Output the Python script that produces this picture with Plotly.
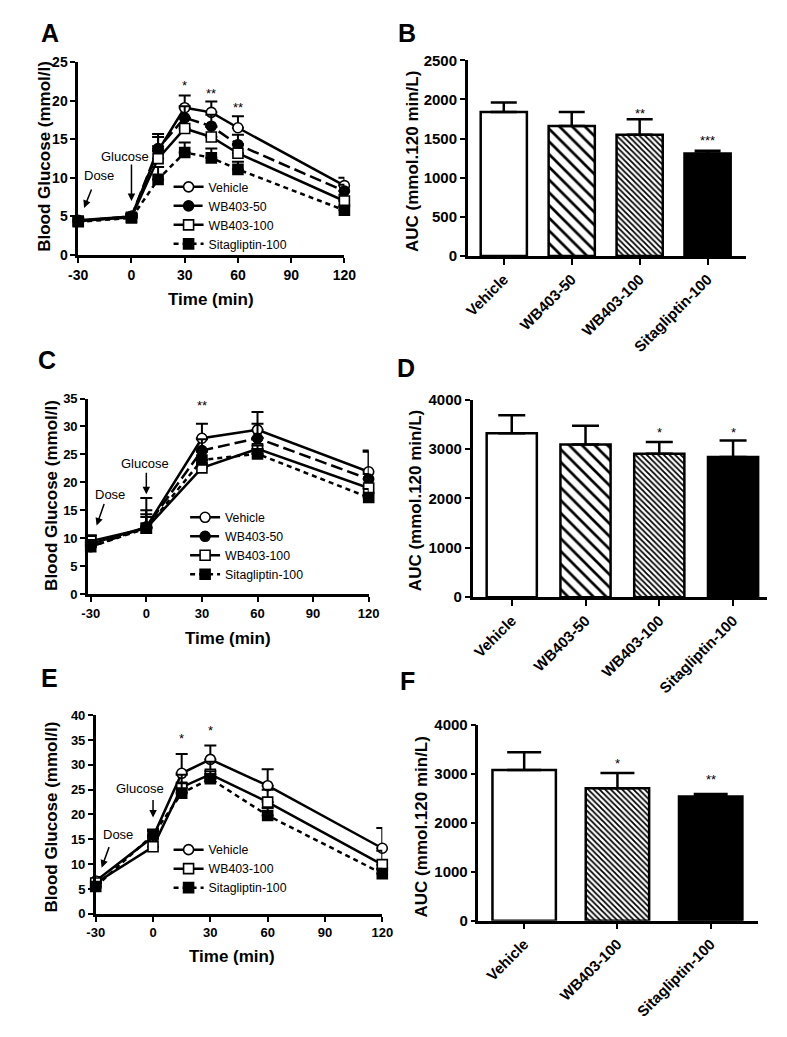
import plotly.graph_objects as go

# target picture size and the default 8px page margin of the browser
W, H = 787, 1037
OFF = 8
FW, FH = W - 2 * OFF, H - 2 * OFF
FONT = "Liberation Sans, Arial, Helvetica, sans-serif"

# ---------------- data ----------------
series_names = ["Vehicle", "WB403-50", "WB403-100", "Sitagliptin-100"]

# Panel A
time_A = [-30, 0, 15, 30, 45, 60, 120]
vehicle_A = [4.5, 5.0, 13.5, 19.1, 18.5, 16.5, 9.0]
vehicle_A_err = [0.3, 0.3, 2.2, 1.6, 1.4, 1.5, 1.0]
wb50_A = [4.4, 5.0, 13.8, 17.8, 16.7, 14.3, 8.3]
wb50_A_err = [0.2, 0.3, 1.5, 1.5, 1.5, 1.3, 0.8]
wb100_A = [4.4, 4.9, 12.5, 16.4, 15.3, 13.2, 7.0]
wb100_A_err = [0.2, 0.3, 1.6, 1.3, 1.3, 1.2, 0.8]
sita_A = [4.3, 4.8, 9.8, 13.3, 12.6, 11.1, 5.8]
sita_A_err = [0.2, 0.3, 1.6, 1.3, 1.2, 1.0, 0.5]
stars_A_x = [30, 45, 60]
stars_A_y = [22.4, 21.3, 19.5]
stars_A_txt = ["*", "**", "**"]

# Panel B
cats_B = ["Vehicle", "WB403-50", "WB403-100", "Sitagliptin-100"]
auc_B = [1840, 1660, 1550, 1310]
auc_B_err = [120, 180, 195, 35]
stars_B_y = [None, None, 1859, 1510]
stars_B_txt = ["", "", "**", "***"]

# Panel C
time_C = [-30, 0, 30, 60, 120]
vehicle_C = [9.0, 12.0, 27.9, 29.4, 21.9]
vehicle_C_err = [1.5, 3.0, 2.6, 3.2, 3.8]
wb50_C = [8.5, 12.0, 25.7, 27.9, 20.6]
wb50_C_err = [1.5, 5.2, 2.0, 2.6, 4.9]
wb100_C = [9.5, 11.8, 22.6, 26.0, 19.0]
wb100_C_err = [1.0, 2.5, 1.5, 2.0, 2.5]
sita_C = [8.5, 11.8, 24.0, 25.1, 17.3]
sita_C_err = [1.2, 2.0, 1.5, 1.5, 1.5]
stars_C_x = [30]
stars_C_y = [34.3]
stars_C_txt = ["**"]

# Panel D
cats_D = ["Vehicle", "WB403-50", "WB403-100", "Sitagliptin-100"]
auc_D = [3317, 3091, 2905, 2839]
auc_D_err = [365, 378, 233, 332]
stars_D_y = [None, None, 3403, 3403]
stars_D_txt = ["", "", "*", "*"]

# Panel E
series_names_E = ["Vehicle", "WB403-100", "Sitagliptin-100"]
time_E = [-30, 0, 15, 30, 60, 120]
vehicle_E = [6.6, 15.5, 28.3, 31.1, 25.8, 13.2]
vehicle_E_err = [0.8, 1.5, 3.9, 2.8, 3.3, 4.1]
wb100_E = [6.2, 13.5, 25.5, 28.1, 22.5, 9.9]
wb100_E_err = [0.6, 3.2, 2.5, 2.5, 2.5, 2.8]
sita_E = [5.5, 15.9, 24.3, 27.2, 19.8, 8.1]
sita_E_err = [0.6, 1.0, 2.0, 1.5, 1.5, 1.0]
stars_E_x = [15, 30]
stars_E_y = [36.0, 37.6]
stars_E_txt = ["*", "*"]

# Panel F
cats_F = ["Vehicle", "WB403-100", "Sitagliptin-100"]
auc_F = [3079, 2709, 2541]
auc_F_err = [363, 309, 47]
stars_F_y = [None, 3276, 2955]
stars_F_txt = ["", "*", "**"]

time_ticks = [-30, 0, 30, 60, 90, 120]
time_tick_labels = ["-30", "0", "30", "60", "90", "120"]

# ---------------- helpers ----------------
def px(x):
    return (x - OFF) / FW

def py(y):
    return 1 - (y - OFF) / FH

STYLE = {
    "Vehicle": dict(symbol="circle", fill="white", dash="solid"),
    "WB403-50": dict(symbol="circle", fill="black", dash="12px,5px"),
    "WB403-100": dict(symbol="square", fill="white", dash="solid"),
    "Sitagliptin-100": dict(symbol="square", fill="black", dash="5px,4px"),
}

BAR_STYLE = {
    "Vehicle": dict(color="white", pattern=None),
    "WB403-50": dict(color="white", pattern=dict(shape="\\", size=9, solidity=0.3)),
    "WB403-100": dict(color="white", pattern=dict(shape="\\", size=4, solidity=0.45)),
    "Sitagliptin-100": dict(color="black", pattern=None),
}

fig = go.Figure()


def add_lines(names, xs, ys_list, errs_list, ax, legend):
    xa = "x" if ax == 1 else f"x{ax}"
    ya = "y" if ax == 1 else f"y{ax}"
    for name, ys, errs in zip(names, ys_list, errs_list):
        st = STYLE[name]
        fig.add_trace(go.Scatter(
            x=xs, y=ys, name=name, mode="lines+markers",
            xaxis=xa, yaxis=ya, legend=legend, cliponaxis=False,
            line=dict(color="black", width=2.5, dash=st["dash"]),
            marker=dict(symbol=st["symbol"], size=10, color=st["fill"],
                        line=dict(color="black", width=1.6)),
            error_y=dict(type="data", symmetric=False, array=errs,
                         arrayminus=[0] * len(errs), color="black",
                         thickness=2, width=6),
        ))


def add_bars(cats, vals, errs, ax, cap):
    xa = f"x{ax}"
    ya = f"y{ax}"
    for c, v, e in zip(cats, vals, errs):
        bs = BAR_STYLE[c]
        marker = dict(color=bs["color"], line=dict(color="black", width=2.5))
        if bs["pattern"]:
            marker["pattern"] = dict(shape=bs["pattern"]["shape"], size=bs["pattern"]["size"],
                                     solidity=bs["pattern"]["solidity"],
                                     fgcolor="black", bgcolor="white", fillmode="replace")
        fig.add_trace(go.Bar(
            x=[c], y=[v], xaxis=xa, yaxis=ya, width=0.68, showlegend=False,
            marker=marker, name=c,
            error_y=dict(type="data", symmetric=False, array=[e],
                         arrayminus=[0], color="black", thickness=2.5, width=cap),
        ))


add_lines(series_names, time_A, [vehicle_A, wb50_A, wb100_A, sita_A],
          [vehicle_A_err, wb50_A_err, wb100_A_err, sita_A_err], 1, "legend")
add_bars(cats_B, auc_B, auc_B_err, 2, 13)
add_lines(series_names, time_C, [vehicle_C, wb50_C, wb100_C, sita_C],
          [vehicle_C_err, wb50_C_err, wb100_C_err, sita_C_err], 3, "legend2")
add_bars(cats_D, auc_D, auc_D_err, 4, 13.5)
add_lines(series_names_E, time_E, [vehicle_E, wb100_E, sita_E],
          [vehicle_E_err, wb100_E_err, sita_E_err], 5, "legend3")
add_bars(cats_F, auc_F, auc_F_err, 6, 17)

# ---------------- axes ----------------
def axis(tsize, **kw):
    d = dict(showline=True, linecolor="black", linewidth=2.5, ticks="outside",
             ticklen=5, tickwidth=2, tickcolor="black", showgrid=False,
             zeroline=False, fixedrange=True,
             tickfont=dict(family=FONT, size=tsize, color="black", weight="bold"))
    d.update(kw)
    return d

# pixel boxes in the picture: (left, right, top, bottom)
boxes = {
    1: (70, 344, 54, 250),
    2: (471, 757, 52, 251),
    3: (80, 369, 396, 595),
    4: (476, 779, 397, 598),
    5: (88, 383, 718, 920),
    6: (482, 770, 728, 927),
}

tx = dict(tickvals=time_ticks, ticktext=time_tick_labels)
layout_axes = {}
specs = {
    1: dict(x=dict(range=[-30, 120], **tx), y=dict(range=[0, 25], dtick=5), ts=14),
    2: dict(x=dict(range=[-0.53, 3.56], type="category", categoryarray=cats_B, categoryorder="array",
                   tickangle=-45, ticklen=6), y=dict(range=[0, 2500], dtick=500), ts=15),
    3: dict(x=dict(range=[-31.5, 120], **tx), y=dict(range=[0, 35], dtick=5), ts=13),
    4: dict(x=dict(range=[-0.53, 3.46], type="category", categoryarray=cats_D, categoryorder="array",
                   tickangle=-45, ticklen=6), y=dict(range=[0, 4000], dtick=1000), ts=15),
    5: dict(x=dict(range=[-30, 120], **tx), y=dict(range=[0, 40], dtick=5), ts=13),
    6: dict(x=dict(range=[-0.49, 2.51], type="category", categoryarray=cats_F, categoryorder="array",
                   tickangle=-45, ticklen=6), y=dict(range=[0, 4000], dtick=1000), ts=15),
}
for i, (l, r, t, b) in boxes.items():
    s = specs[i]
    xk = "xaxis" if i == 1 else f"xaxis{i}"
    yk = "yaxis" if i == 1 else f"yaxis{i}"
    xa = "x" if i == 1 else f"x{i}"
    ya = "y" if i == 1 else f"y{i}"
    layout_axes[xk] = axis(s["ts"], domain=[px(l), px(r)], anchor=ya, **s["x"])
    layout_axes[yk] = axis(s["ts"], domain=[py(b), py(t)], anchor=xa, **s["y"])

# ---------------- annotations ----------------
ann = []

def txt(x, y, text, size=17, bold=True, angle=0, **kw):
    d = dict(x=px(x), y=py(y), xref="paper", yref="paper", text=text, showarrow=False,
             textangle=angle, xanchor="center", yanchor="middle",
             font=dict(family=FONT, size=size, color="black", weight="bold" if bold else "normal"))
    d.update(kw)
    ann.append(d)

# panel letters
for letter, (x, y) in {"A": (41, 24), "B": (408, 24), "C": (38, 357), "D": (407, 365),
                        "E": (40, 680), "F": (409, 683)}.items():
    txt(x, y, letter, size=25)

# axis titles
txt(35, 150, "Blood Glucose (mmol/l)", angle=-90)
txt(207, 295, "Time (min)")
txt(414, 155, "AUC (mmol.120 min/L)", angle=-90)
txt(43, 495, "Blood Glucose (mmol/l)", angle=-90)
txt(224, 640, "Time (min)")
txt(417, 500, "AUC (mmol.120 min/L)", angle=-90)
txt(42, 822, "Blood Glucose (mmol/l)", angle=-90)
txt(228, 963, "Time (min)")
txt(423, 832, "AUC (mmol.120 min/L)", angle=-90)


def stars(xs, ys, texts, ax):
    xr = "x" if ax == 1 else f"x{ax}"
    yr = "y" if ax == 1 else f"y{ax}"
    for x, y, t in zip(xs, ys, texts):
        if not t:
            continue
        ann.append(dict(x=x, y=y, xref=xr, yref=yr, text=t, showarrow=False,
                        yanchor="middle", yshift=-3,
                        font=dict(family=FONT, size=13, color="black")))

stars(stars_A_x, stars_A_y, stars_A_txt, 1)
stars(cats_B, stars_B_y, stars_B_txt, 2)
stars(stars_C_x, stars_C_y, stars_C_txt, 3)
stars(cats_D, stars_D_y, stars_D_txt, 4)
stars(stars_E_x, stars_E_y, stars_E_txt, 5)
stars(cats_F, stars_F_y, stars_F_txt, 6)


def arrow_label(ax, x, y, tail_dx, tail_dy, label, lx, ly):
    xr = "x" if ax == 1 else f"x{ax}"
    yr = "y" if ax == 1 else f"y{ax}"
    ann.append(dict(x=x, y=y, xref=xr, yref=yr, text="", showarrow=True,
                    ax=tail_dx, ay=tail_dy, arrowhead=2, arrowsize=1,
                    arrowwidth=1.5, arrowcolor="black"))
    ann.append(dict(x=x, y=y, xref=xr, yref=yr, text=label, showarrow=False,
                    xshift=lx, yshift=ly,
                    font=dict(family=FONT, size=13, color="black")))

arrow_label(1, 0, 7.0, 0, -38, "Glucose", -6, 45)
arrow_label(1, -26.7, 6.1, 8, -20, "Dose", 15, 32)
arrow_label(3, 0, 17.9, 0, -23, "Glucose", -1, 31)
arrow_label(3, -26.8, 12.3, 8, -23, "Dose", 13, 31)
arrow_label(5, 0, 19.4, 0, -19, "Glucose", -13, 29)
arrow_label(5, -26.9, 9.3, 8, -22, "Dose", 16, 33)

leg_common = dict(bgcolor="rgba(0,0,0,0)", borderwidth=0, xanchor="left", yanchor="top",
                  itemwidth=30, font=dict(family=FONT, size=12.3, color="black"),
                  tracegroupgap=0)

fig.update_layout(
    width=FW, height=FH,
    margin=dict(l=0, r=0, t=0, b=0),
    paper_bgcolor="white", plot_bgcolor="white",
    font=dict(family=FONT, color="black"),
    showlegend=True,
    barmode="overlay",
    legend=dict(x=px(163), y=py(166), **leg_common),
    legend2=dict(x=px(180), y=py(502), **leg_common),
    legend3=dict(x=px(163), y=py(840), **leg_common),
    annotations=ann,
    **layout_axes,
)

fig.write_html("out.html", config={"displayModeBar": False})
